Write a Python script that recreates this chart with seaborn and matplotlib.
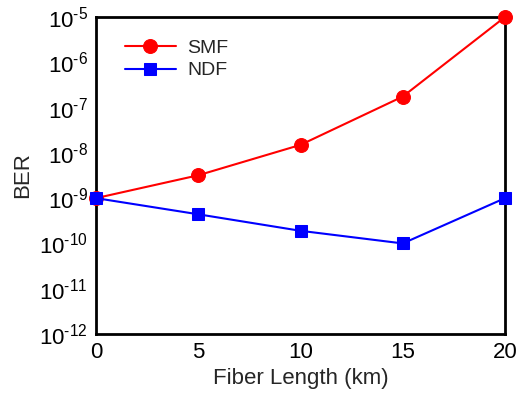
import numpy as np
import pandas as pd
import matplotlib
matplotlib.use("Agg")
import matplotlib.pyplot as plt
import seaborn as sns
from matplotlib.ticker import LogLocator, FuncFormatter, FixedLocator, NullLocator

fiber_length = [0, 5, 10, 15, 20]
smf_ber = [1.0e-9, 3.2e-9, 1.5e-8, 1.75e-7, 1.0e-5]
ndf_ber = [1.0e-9, 4.4e-10, 1.9e-10, 1.0e-10, 1.0e-9]
series_names = ["SMF", "NDF"]
x_ticks = [0, 5, 10, 15, 20]

sns.set_style("white")
plt.rcParams['font.family'] = ['Liberation Sans', 'DejaVu Sans']
plt.rcParams['mathtext.fontset'] = 'custom'
plt.rcParams['mathtext.rm'] = 'Liberation Sans'
plt.rcParams['mathtext.it'] = 'Liberation Sans'

df = pd.DataFrame({
    "Fiber Length (km)": fiber_length * 2,
    "BER": smf_ber + ndf_ber,
    "Fiber": [series_names[0]] * len(fiber_length) + [series_names[1]] * len(fiber_length),
})

fig = plt.figure(figsize=(5.17, 3.99), dpi=100)
ax = fig.add_axes([0.1857, 0.1629, 0.7911, 0.7945])

colors = {"SMF": "#ff0000", "NDF": "#0000ff"}
markers = {"SMF": "o", "NDF": "s"}
for name in series_names:
    sub = df[df["Fiber"] == name]
    sns.lineplot(data=sub, x="Fiber Length (km)", y="BER", ax=ax, color=colors[name],
                 marker=markers[name], markersize=10 if name == "SMF" else 8.5,
                 markeredgecolor=colors[name], linewidth=1.5, label=name, clip_on=False,
                 zorder=5)

ax.set_yscale("log")
ax.set_xlim(0, 20)
ax.set_ylim(1e-12, 1e-5)
ax.xaxis.set_major_locator(FixedLocator(x_ticks))
ax.yaxis.set_major_locator(LogLocator(base=10, numticks=20))
ax.yaxis.set_minor_locator(NullLocator())


def log_fmt(v, pos):
    e = int(round(np.log10(v)))
    if e < 0:
        return r"$10^{\text{-}%d}$" % (-e)
    return r"$10^{%d}$" % e


ax.yaxis.set_major_formatter(FuncFormatter(log_fmt))

for s in ax.spines.values():
    s.set_color("black")
    s.set_linewidth(2.0)
ax.tick_params(axis="both", direction="in", length=8, width=2, labelsize=16,
               colors="black", top=False, right=False, pad=6)
ax.tick_params(axis="both", which="minor", length=0)
ax.set_xlabel("Fiber Length (km)", fontsize=16, labelpad=3)
ax.set_ylabel("BER", fontsize=16, labelpad=4)

leg = ax.legend(loc="upper left", bbox_to_anchor=(0.028, 0.985), frameon=False,
                fontsize=14, handlelength=2.6, handletextpad=0.6, labelspacing=0.25)

fig.savefig("out.png", dpi=100)
